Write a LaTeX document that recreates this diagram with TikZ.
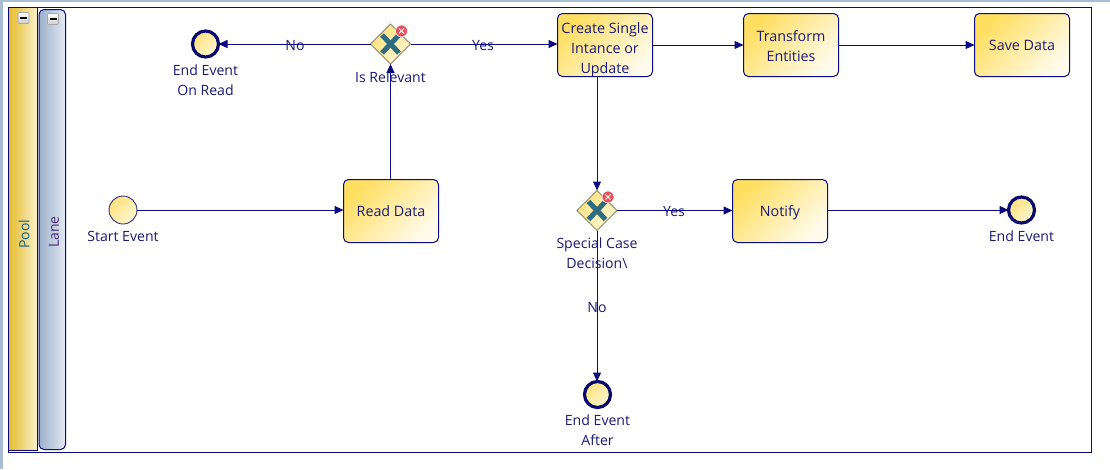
\documentclass[tikz,border=0pt]{standalone}
\usepackage{fontspec}
\setmainfont{Open Sans}
\usetikzlibrary{arrows.meta,shapes.geometric}
\definecolor{navy}{HTML}{0A0A80}
\definecolor{txt}{HTML}{1A1A72}
\definecolor{ytop}{HTML}{FFDE60}
\definecolor{ybot}{HTML}{FFFBEC}
\definecolor{etop}{HTML}{FFE27C}
\definecolor{ebot}{HTML}{FFF6D4}
\definecolor{strip}{HTML}{A8BCD4}
\definecolor{poolL}{HTML}{E6BC2C}
\definecolor{poolR}{HTML}{FAF0CC}
\definecolor{laneL}{HTML}{9CB0CC}
\definecolor{laneR}{HTML}{E4EAF2}
\definecolor{xcol}{HTML}{2E6C82}
\definecolor{gateline}{HTML}{8A8A6A}
\definecolor{pooltxt}{HTML}{12608A}
\definecolor{lanetxt}{HTML}{4A2A7A}
\definecolor{errred}{HTML}{E8505A}
\tikzset{
  x=1pt,y=-1pt,
  every node/.style={inner sep=0pt,outer sep=0pt},
  lbl/.style={font=\fontsize{14.1}{20}\selectfont,text=txt,align=center},
  tasklbl/.style={font=\fontsize{14.3}{20}\selectfont,text=txt,align=center},
  taskbox/.style={draw=navy,line width=1pt,rounded corners=5pt,minimum width=95pt,minimum height=63pt,
    top color=ytop,bottom color=ybot,shading angle=45},
  gate/.style={draw=gateline,line width=0.8pt,diamond,aspect=1,minimum width=40pt,minimum height=40pt,
    top color=etop,bottom color=ebot,shading angle=45},
  startev/.style={circle,draw=navy!70!gray,line width=0.9pt,minimum size=28pt,top color=etop,bottom color=ebot,shading angle=45},
  endev/.style={circle,draw=navy!85!black,line width=3.2pt,minimum size=26pt,top color=etop,bottom color=ebot,shading angle=45},
  flow/.style={draw=navy,line width=1pt,-{Triangle[length=9pt,width=8pt]}},
  xmark/.style={draw=xcol,line width=5pt},
  errdot/.style={circle,fill=errred,draw=white,line width=0.6pt,minimum size=12pt},
  btn/.style={draw=gray!70,line width=0.6pt,rounded corners=1pt,top color=white,bottom color=gray!40,minimum width=11pt,minimum height=11pt},
}
\begin{document}
\begin{tikzpicture}
\useasboundingbox (0,0) rectangle (1110,469);
\fill[white] (0,0) rectangle (1110,469);
\fill[strip] (0,0) rectangle (1110,2);
\fill[strip] (0,0) rectangle (3,469);
% pool and lane
\node[draw=navy,line width=1pt,fill=white,anchor=north west,minimum width=1083pt,minimum height=445pt] (frame) at (8.5,7.5) {};
\node[draw=navy,line width=1pt,left color=poolL,right color=poolR,anchor=north west,minimum width=29pt,minimum height=443pt] (pool) at (8.5,7.5) {};
\node[draw=navy,line width=1pt,rounded corners=5pt,left color=laneL,right color=laneR,anchor=north west,minimum width=26.5pt,minimum height=440pt] (lane) at (39,9.5) {};
\node[btn] (b1) at (23.5,18) {};
\draw[line width=1.2pt] (b1.center)+(-3.5,0) -- +(3.5,0);
\node[btn] (b2) at (53,19) {};
\draw[line width=1.2pt] (b2.center)+(-3.5,0) -- +(3.5,0);
\node[rotate=90,font=\fontsize{14}{16}\selectfont,text=pooltxt] (pl) at (24,234) {Pool};
\node[rotate=90,font=\fontsize{14}{16}\selectfont,text=lanetxt] (ln) at (54,232) {Lane};
% nodes
\node[endev] (e1) at (205.5,44) {};
\node[gate] (g1) at (390.5,44) {};
\node[taskbox,label={[tasklbl,yshift=-4.6pt]center:Create Single\\Intance or\\Update}] (create) at (605,45) {};
\node[taskbox,label={[tasklbl,yshift=-0.8pt]center:Transform\\Entities}] (trans) at (791,45) {};
\node[taskbox,label={[tasklbl,yshift=0pt]center:Save Data}] (save) at (1022,45) {};
\node[startev] (st) at (123,210) {};
\node[taskbox,label={[tasklbl,yshift=-0.6pt]center:Read Data}] (read) at (391,211) {};
\node[gate] (g2) at (597,210.5) {};
\node[taskbox,label={[tasklbl,yshift=-1.4pt]center:Notify}] (notify) at (780,211) {};
\node[endev] (e2) at (1021.5,210) {};
\node[endev] (e3) at (597.5,394.5) {};
% connectors
\draw[flow] (g1.west) -- (e1.east);
\draw[flow] (g1.east) -- (create.west |- g1.east);
\draw[flow] (create.east) -- (trans.west);
\draw[flow] (trans.east) -- (save.west);
\draw[flow] (st.east) -- (read.west |- st.east);
\draw[flow] (read.north -| g1.south) -- (g1.south);
\draw[flow] (create.south -| g2.north) -- (g2.north);
\draw[flow] (g2.east) -- (notify.west |- g2.east);
\draw[flow] (notify.east |- e2.west) -- (e2.west);
\draw[flow] (g2.south) -- (g2.south |- e3.north);
% gateway marks
\foreach \g in {g1,g2}{
  \draw[xmark] (\g.center)+(-8.5,-9) -- +(8.5,9);
  \draw[xmark] (\g.center)+(8.5,-9) -- +(-8.5,9);
}
\node[errdot] (ea) at (401.5,31) {};
\node[errdot] (eb) at (608,197) {};
\foreach \e in {ea,eb}{
  \draw[white,line width=1pt] (\e.center)+(-2.5,-2.5) -- +(2.5,2.5);
  \draw[white,line width=1pt] (\e.center)+(2.5,-2.5) -- +(-2.5,2.5);
}
% labels
\node[lbl] (l1) at (205.5,80.7) {End Event\\On Read};
\node[lbl] (l2) at (390.5,77.7) {Is Relevant};
\node[lbl] (l3) at (123,236.7) {Start Event};
\node[lbl] (l4) at (597,253.7) {Special Case\\Decision\textbackslash};
\node[lbl] (l5) at (1021.5,236.7) {End Event};
\node[lbl] (l6) at (597.5,430.7) {End Event\\After};
\node[lbl] (n1) at (295,45.7) {No};
\node[lbl] (y1) at (483,45.3) {Yes};
\node[lbl] (y2) at (674,211.3) {Yes};
\node[lbl] (n2) at (597,307.7) {No};
\end{tikzpicture}
\end{document}
